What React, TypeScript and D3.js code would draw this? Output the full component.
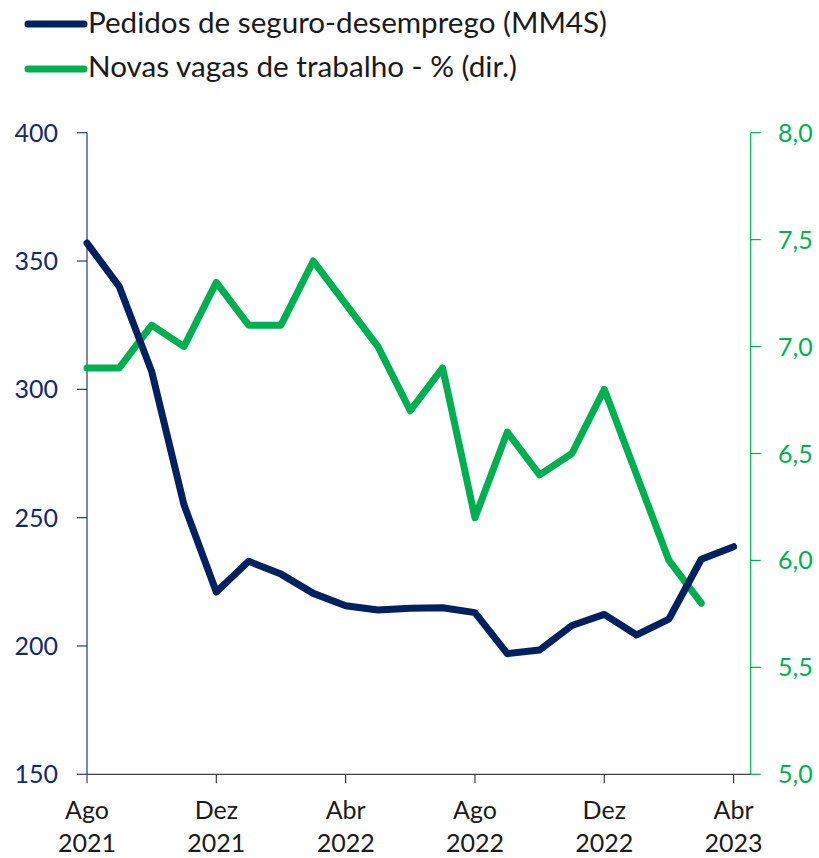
import React from "react";
import * as d3 from "d3";

const months: string[] = [
  "2021-08", "2021-09", "2021-10", "2021-11", "2021-12",
  "2022-01", "2022-02", "2022-03", "2022-04", "2022-05", "2022-06", "2022-07",
  "2022-08", "2022-09", "2022-10", "2022-11", "2022-12",
  "2023-01", "2023-02", "2023-03", "2023-04",
];

// Pedidos de seguro-desemprego (MM4S), milhares — eixo esquerdo
const claims: (number | null)[] = [
  357, 340, 307, 255, 221,
  233, 228, 220.5, 215.7, 214, 214.7, 214.9,
  213, 197, 198.4, 208, 212.3,
  204.3, 210.5, 233.8, 238.7,
];

// Novas vagas de trabalho - % — eixo direito
const openings: (number | null)[] = [
  6.9, 6.9, 7.1, 7.0, 7.3,
  7.1, 7.1, 7.4, 7.2, 7.0, 6.7, 6.9,
  6.2, 6.6, 6.4, 6.5, 6.8,
  6.4, 6.0, 5.8, null,
];

const leftTicks: number[] = [150, 200, 250, 300, 350, 400];
const rightTicks: number[] = [5.0, 5.5, 6.0, 6.5, 7.0, 7.5, 8.0];
const xTickIdx: number[] = [0, 4, 8, 12, 16, 20];
const xTickMonth: string[] = ["Ago", "Dez", "Abr", "Ago", "Dez", "Abr"];
const xTickYear: string[] = ["2021", "2021", "2022", "2022", "2022", "2023"];

const legendLabels: string[] = [
  "Pedidos de seguro-desemprego (MM4S)",
  "Novas vagas de trabalho - % (dir.)",
];

const NAVY = "#002060";
const GREEN = "#00B050";
const FONT = "Lato, 'Open Sans', sans-serif";

export default function App() {
  const W = 819, H = 858;
  const left = 87, right = 750.7, top = 132.7, bottom = 774.3;

  const x = d3.scaleLinear().domain([0, 20]).range([left, 733.6]);
  const yL = d3.scaleLinear().domain([150, 400]).range([bottom, top]);
  const yR = d3.scaleLinear().domain([5, 8]).range([bottom, top]);

  const lineL = d3.line<number | null>()
    .defined((d) => d != null)
    .x((_, i) => x(i))
    .y((d) => yL(d as number));
  const lineR = d3.line<number | null>()
    .defined((d) => d != null)
    .x((_, i) => x(i))
    .y((d) => yR(d as number));

  const fmtR = (v: number) => v.toFixed(1).replace(".", ",");

  return (
    <svg width={W} height={H} style={{ position: "absolute", left: 0, top: 0, background: "#fff" }}
      fontFamily={FONT}>
      {/* Legend */}
      <line x1={28} x2={84} y1={24} y2={24} stroke={NAVY} strokeWidth={7} strokeLinecap="round" />
      <text x={88} y={32.5} fontSize={29} fill="#1a1a1a" textLength={519} lengthAdjust="spacingAndGlyphs">
        {legendLabels[0]}
      </text>
      <line x1={28} x2={84} y1={69} y2={69} stroke={GREEN} strokeWidth={7} strokeLinecap="round" />
      <text x={88} y={76.5} fontSize={29} fill="#1a1a1a" textLength={429} lengthAdjust="spacingAndGlyphs">
        {legendLabels[1]}
      </text>

      {/* Left axis */}
      <line x1={left} x2={left} y1={top} y2={bottom} stroke="#1F3A7A" strokeWidth={1.2} />
      {leftTicks.map((t) => (
        <g key={"l" + t}>
          <line x1={left - 10} x2={left} y1={yL(t)} y2={yL(t)} stroke="#1F3A7A" strokeWidth={1.2} />
          <text x={58} y={yL(t)} dy="0.36em" textAnchor="end" fontSize={25} fill="#13296B">{t}</text>
        </g>
      ))}

      {/* Right axis */}
      <line x1={right} x2={right} y1={top} y2={bottom} stroke={GREEN} strokeWidth={1.2} />
      {rightTicks.map((t) => (
        <g key={"r" + t}>
          <line x1={right} x2={right + 10} y1={yR(t)} y2={yR(t)} stroke={GREEN} strokeWidth={1.2} />
          <text x={778} y={yR(t)} dy="0.36em" textAnchor="start" fontSize={25} fill={GREEN}>{fmtR(t)}</text>
        </g>
      ))}

      {/* X axis */}
      <line x1={left} x2={right} y1={bottom} y2={bottom} stroke="#404040" strokeWidth={1.2} />
      {xTickIdx.map((idx, k) => (
        <g key={"x" + idx}>
          <line x1={x(idx)} x2={x(idx)} y1={bottom} y2={bottom + 9} stroke="#404040" strokeWidth={1.2} />
          <text x={x(idx)} y={819} textAnchor="middle" fontSize={25} fill="#1a1a1a">{xTickMonth[k]}</text>
          <text x={x(idx)} y={852} textAnchor="middle" fontSize={25} fill="#1a1a1a">{xTickYear[k]}</text>
        </g>
      ))}

      {/* Series */}
      <path d={lineR(openings) || ""} fill="none" stroke={GREEN} strokeWidth={7}
        strokeLinejoin="round" strokeLinecap="round" />
      <path d={lineL(claims) || ""} fill="none" stroke={NAVY} strokeWidth={7}
        strokeLinejoin="round" strokeLinecap="round" />
    </svg>
  );
}
